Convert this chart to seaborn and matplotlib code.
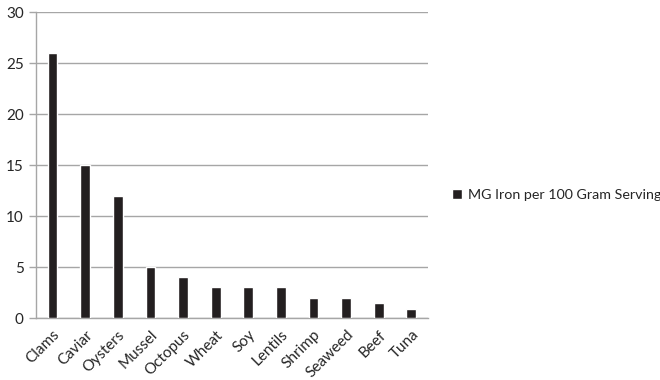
import matplotlib
matplotlib.use("Agg")
import matplotlib.pyplot as plt
import numpy as np
import pandas as pd
import seaborn as sns

foods = ["Clams", "Caviar", "Oysters", "Mussel", "Octopus", "Wheat", "Soy",
         "Lentils", "Shrimp", "Seaweed", "Beef", "Tuna"]
iron_mg = [26, 15, 12, 5, 4, 3, 3, 3, 2, 2, 1.5, 0.9]
series_name = "MG Iron per 100 Gram Serving"
y_ticks = [0, 5, 10, 15, 20, 25, 30]

df = pd.DataFrame({"food": foods, "iron": iron_mg})

sns.set_theme(style="white")
plt.rcParams["font.family"] = ["Lato", "DejaVu Sans"]

grid_col = "#a6a6a6"
text_col = "#262626"
bar_col = "#231f20"

fig = plt.figure(figsize=(6.6, 3.8), dpi=100)
ax = fig.add_axes([0.055, 0.163, 0.593, 0.805])

sns.barplot(data=df, x="food", y="iron", color=bar_col, width=0.3,
            saturation=1, label=series_name, ax=ax, zorder=3)

ax.set_ylim(0, 30)
ax.set_xlim(-0.5, len(foods) - 0.5)
ax.set_yticks(y_ticks)
ax.set_yticklabels([str(t) for t in y_ticks], fontsize=11, color=text_col)
ax.yaxis.grid(True, color=grid_col, linewidth=1)
ax.set_axisbelow(True)

ax.set_xticks(range(len(foods)))
ax.set_xticklabels(foods, rotation=45, ha="right", rotation_mode="anchor",
                   fontsize=11, color=text_col)
ax.tick_params(axis="x", which="major", length=0, pad=7)
ax.set_xticks(np.arange(-0.5, len(foods), 1.0), minor=True)
ax.tick_params(axis="x", which="minor", length=5, color=grid_col, width=1)
ax.tick_params(axis="y", length=5, color=grid_col, width=1, left=True, pad=4)

ax.set_xlabel("")
ax.set_ylabel("")
for side in ["top", "right"]:
    ax.spines[side].set_visible(False)
for side in ["left", "bottom"]:
    ax.spines[side].set_color(grid_col)
    ax.spines[side].set_linewidth(1)

handles, labels = ax.get_legend_handles_labels()
if ax.get_legend() is not None:
    ax.get_legend().remove()
leg = fig.legend(handles, labels, loc="center left",
                 bbox_to_anchor=(452 / 660, 1 - 195 / 380), frameon=False,
                 fontsize=10.3, handlelength=0.7, handleheight=0.7,
                 handletextpad=0.4, borderpad=0, borderaxespad=0)
for t in leg.get_texts():
    t.set_color(text_col)

fig.savefig("out.png", dpi=100)
